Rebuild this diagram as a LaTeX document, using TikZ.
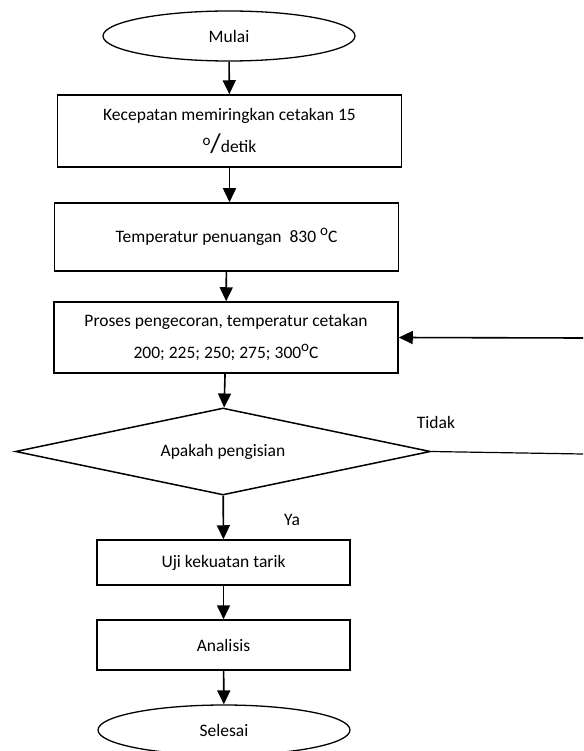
\documentclass[tikz,border=0pt]{standalone}
\usepackage{fontspec}
\setmainfont{Carlito}
\usepackage{tikz}
\usetikzlibrary{shapes.geometric, arrows.meta, positioning}
\newcommand{\dego}{\raisebox{0.42em}{\fontsize{15}{15}\selectfont o}}

\begin{document}
\begin{tikzpicture}[
    x=1pt, y=-1pt,
    every node/.style={font=\fontsize{17.5}{32}\selectfont},
    terminal/.style={ellipse, draw, line width=1.3pt, minimum width=252pt,
                     minimum height=50pt, inner sep=0pt},
    proc/.style={rectangle, draw, line width=1.5pt, minimum width=#1,
                 align=center, inner sep=0pt},
    proc/.default=344pt,
    decision/.style={diamond, draw, line width=1.5pt, aspect=4.77,
                     minimum width=415pt, minimum height=87pt, inner sep=0pt},
    arrow/.style={-{Triangle[width=13pt,length=14pt]}, line width=1.6pt},
    link/.style={line width=1.2pt},
    lbl/.style={inner sep=0pt}
]
\useasboundingbox (0,0) rectangle (583,751);

% Start
\node[terminal] at (229,36) (mulai) {Mulai};

% Process steps
\node[proc, minimum height=72pt] at (229.5,131) (kec)
    {Kecepatan memiringkan cetakan 15\\\dego{\fontsize{27}{32}\selectfont /}detik};
\node[proc, minimum height=68pt] at (226.5,237) (temp)
    {Temperatur penuangan\ \ 830 \dego C};
\node[proc, minimum height=71pt] at (226,337.5) (proses)
    {Proses pengecoran, temperatur cetakan\\200; 225; 250; 275; 300\dego C};

% Decision
\node[decision] at (223,451.5) (cek) {Apakah pengisian};

% Testing
\node[proc=253pt, minimum height=45pt] at (223.5,562.5) (uji) {Uji kekuatan tarik};
\node[proc=253pt, minimum height=50pt] at (223.5,645) (analisis) {Analisis};

% End
\node[terminal] at (224,730) (selesai) {Selesai};

% Loop back (runs off the right edge)
\coordinate (tidak-out) at (583,454);
\coordinate (tidak-in) at (583,338);

% Arrows
\draw[arrow] (mulai) -- (kec);
\draw[arrow] (kec) -- (kec.south |- temp.north);
\draw[arrow] (temp) -- (proses);
\draw[arrow] (proses) -- (cek);
\draw[arrow] (cek) -- (uji);
\draw[arrow] (uji) -- (analisis);
\draw[arrow] (analisis) -- (selesai);
\draw[link] (cek.east) -- (tidak-out);
\draw[arrow] (tidak-in) -- (proses.east);

% Branch labels
\node[lbl] at (436,422) (tidak) {Tidak};
\node[lbl] at (292,520) (ya) {Ya};

\end{tikzpicture}
\end{document}
